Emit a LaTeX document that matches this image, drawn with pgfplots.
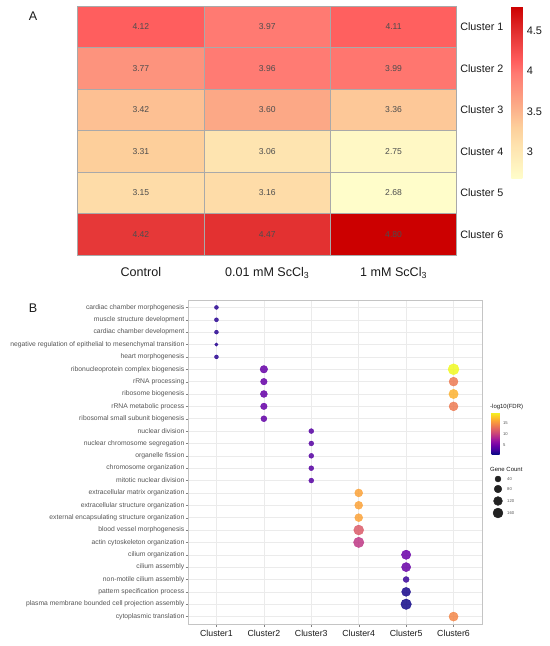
\documentclass[border=0pt]{standalone}
\usepackage{fontspec}
\setmainfont{Liberation Sans}
\usepackage{pgfplots}
\usepackage{pgfplotstable}
\pgfplotsset{compat=1.18}
\definecolor{cellline}{HTML}{A9A9A9}
\definecolor{numtxt}{HTML}{4D4D4D}
\definecolor{lab}{HTML}{1A1A1A}
\definecolor{termtxt}{HTML}{555555}
\definecolor{gridB}{HTML}{EBEBEB}
\definecolor{frameB}{HTML}{C4C4C4}
\definecolor{dotK}{HTML}{222222}
\pgfplotsset{
  /pgf/number format/assume math mode=true,
  colormap={heatA}{rgb255(0pt)=(255,253,202); rgb255(38pt)=(254,228,176); rgb255(62pt)=(253,208,156); rgb255(92pt)=(252,168,134); rgb255(129pt)=(255,122,114); rgb255(144pt)=(255,94,94); rgb255(177pt)=(228,52,52); rgb255(212pt)=(204,0,0)},
  colormap={plasma}{rgb255=(13,8,135) rgb255=(65,4,157) rgb255=(106,0,168) rgb255=(143,13,164) rgb255=(177,42,144) rgb255=(204,71,120) rgb255=(225,100,98) rgb255=(242,132,75) rgb255=(252,166,54) rgb255=(252,206,37) rgb255=(240,249,33)},
}

% panel A: mean values, row y=1 is Cluster 6
\pgfplotstableread{
x y v
1 1 4.42
2 1 4.47
3 1 4.80
1 2 3.15
2 2 3.16
3 2 2.68
1 3 3.31
2 3 3.06
3 3 2.75
1 4 3.42
2 4 3.60
3 4 3.36
1 5 3.77
2 5 3.96
3 5 3.99
1 6 4.12
2 6 3.97
3 6 4.11
}\heatdata

% panel B: cluster, term row (1 = bottom), -log10(FDR), gene count
\pgfplotstableread{
x y fdr n
1 26 2.1 10
1 25 2.1 11
1 24 2.1 10
1 23 2.0 5
1 22 2.1 10
2 21 4.6 78
2 20 4.6 53
2 19 4.6 63
2 18 4.6 53
2 17 4.4 40
3 16 3.9 22
3 15 3.9 22
3 14 3.9 22
3 13 3.9 22
3 12 3.9 22
4 11 16.0 90
4 10 16.0 90
4 9 16.0 90
4 8 11.8 160
4 7 9.5 177
5 6 4.8 137
5 5 4.7 130
5 4 2.7 40
5 3 1.4 123
5 2 1.2 185
6 21 20.0 203
6 20 13.7 123
6 19 16.8 137
6 18 13.7 123
6 1 14.5 130
}\godata

\pgfplotstableread{
x y n
498 -479 40
498 -489 80
498 -501 120
498 -513 160
}\sizekey

\begin{document}
\begin{tikzpicture}
\useasboundingbox (0,0) rectangle (550bp,-646bp);

% ---- A: heatmap
\begin{axis}[
  at={(267.25bp,-130.6bp)}, anchor=center,
  scale only axis, width=379bp, height=249bp,
  xmin=0.5, xmax=3.5, ymin=0.5, ymax=6.5,
  colormap name=heatA, point meta min=2.68, point meta max=4.80,
  xtick={1,2,3},
  xticklabels={Control, 0.01 mM ScCl\textsubscript{3}, 1 mM ScCl\textsubscript{3}},
  ytick={1,...,6},
  yticklabels={Cluster 6, Cluster 5, Cluster 4, Cluster 3, Cluster 2, Cluster 1},
  yticklabel pos=right,
  major tick length=0pt, minor tick length=0pt,
  minor xtick={1.5,2.5}, minor ytick={1.5,2.5,3.5,4.5,5.5},
  xminorgrids, yminorgrids,
  minor grid style={cellline, line width=0.9bp},
  axis line style={cellline, line width=0.9bp},
  axis on top,
  xticklabel style={font=\fontsize{12.6}{14}\selectfont, text=lab, yshift=-9bp},
  yticklabel style={font=\fontsize{10.8}{12}\selectfont, text=lab},
  colorbar,
  colorbar style={
    at={(parent axis.north east)}, anchor=north west, xshift=46bp,
    width=11bp, height=172bp,
    ytick={3,3.5,4,4.5}, major tick length=0pt,
    axis line style={draw=none},
    yticklabel style={font=\fontsize{11}{12}\selectfont, text=lab, xshift=1bp},
  },
]
\addplot[matrix plot*, mesh/cols=3, point meta=explicit]
  table[x=x, y=y, meta=v] {\heatdata};
\addplot[draw=none, mark=none, point meta=explicit symbolic,
  nodes near coords, nodes near coords align=center,
  every node near coord/.append style={font=\fontsize{8.6}{10}\selectfont, text=numtxt}]
  table[x=x, y=y, meta=v] {\heatdata};
\end{axis}

% ---- B: GO dot plot
\begin{axis}[
  at={(335bp,-462bp)}, anchor=center,
  scale only axis, width=294bp, height=324bp,
  xmin=0.4, xmax=6.6, ymin=0.4, ymax=26.6,
  xtick={1,...,6},
  xticklabels={Cluster1, Cluster2, Cluster3, Cluster4, Cluster5, Cluster6},
  ytick={1,...,26},
  yticklabels={
    cytoplasmic translation,
    plasma membrane bounded cell projection assembly,
    pattern specification process,
    non-motile cilium assembly,
    cilium assembly,
    cilium organization,
    actin cytoskeleton organization,
    blood vessel morphogenesis,
    external encapsulating structure organization,
    extracellular structure organization,
    extracellular matrix organization,
    mitotic nuclear division,
    chromosome organization,
    organelle fission,
    nuclear chromosome segregation,
    nuclear division,
    ribosomal small subunit biogenesis,
    rRNA metabolic process,
    ribosome biogenesis,
    rRNA processing,
    ribonucleoprotein complex biogenesis,
    heart morphogenesis,
    negative regulation of epithelial to mesenchymal transition,
    cardiac chamber development,
    muscle structure development,
    cardiac chamber morphogenesis},
  grid=major, major grid style={gridB, line width=0.5bp},
  axis line style={frameB, line width=0.8bp},
  tick pos=left, tick align=outside, major tick length=2.5bp,
  tick style={color=gray},
  yticklabel style={font=\fontsize{6.8}{8}\selectfont, text=termtxt, inner sep=1bp},
  xticklabel style={font=\fontsize{8.8}{10}\selectfont, text=lab},
  colormap name=plasma, point meta min=1, point meta max=20,
  colorbar,
  colorbar style={
    at={(parent axis.north east)}, anchor=north west, xshift=1bp, yshift=-112bp,
    width=8bp, height=42bp,
    ytick={5,10,15}, major tick length=0pt,
    axis line style={draw=none},
    yticklabel style={font=\fontsize{4.2}{5}\selectfont, text=termtxt},
  },
  clip=false,
]
\addplot[scatter, only marks, mark=*, point meta=explicit,
  scatter/use mapped color={draw=mapped color, fill=mapped color},
  visualization depends on={1+0.316*sqrt(\thisrow{n}) \as \msize},
  scatter/@pre marker code/.append style={/tikz/mark size=\msize},
  mark options={opacity=0.85}]
  table[x=x, y=y, meta=fdr] {\godata};
\end{axis}

% ---- legend keys and panel letters
\begin{axis}[
  at={(0bp,0bp)}, anchor=north west,
  scale only axis, width=550bp, height=646bp,
  xmin=0, xmax=550, ymin=-646, ymax=0,
  hide axis, clip=false,
]
\addplot[scatter, only marks, mark=*, point meta=explicit,
  scatter/use mapped color={draw=dotK, fill=dotK},
  visualization depends on={1+0.316*sqrt(\thisrow{n}) \as \msize},
  scatter/@pre marker code/.append style={/tikz/mark size=\msize}]
  table[x=x, y=y, meta=n] {\sizekey};
\node[anchor=west, font=\fontsize{6}{7}\selectfont, text=lab, inner sep=0pt] at (axis cs:490,-407) {-log10(FDR)};
\node[anchor=west, font=\fontsize{6}{7}\selectfont, text=lab, inner sep=0pt] at (axis cs:490,-469) {Gene Count};
\node[anchor=west, font=\fontsize{4.2}{5}\selectfont, text=termtxt, inner sep=0pt] at (axis cs:507,-479) {40};
\node[anchor=west, font=\fontsize{4.2}{5}\selectfont, text=termtxt, inner sep=0pt] at (axis cs:507,-489) {80};
\node[anchor=west, font=\fontsize{4.2}{5}\selectfont, text=termtxt, inner sep=0pt] at (axis cs:507,-501) {120};
\node[anchor=west, font=\fontsize{4.2}{5}\selectfont, text=termtxt, inner sep=0pt] at (axis cs:507,-513) {160};
\node[font=\fontsize{12.6}{14}\selectfont, text=lab] at (axis cs:33,-16.5) {A};
\node[font=\fontsize{12.6}{14}\selectfont, text=lab] at (axis cs:33,-308) {B};
\end{axis}
\end{tikzpicture}
\end{document}
